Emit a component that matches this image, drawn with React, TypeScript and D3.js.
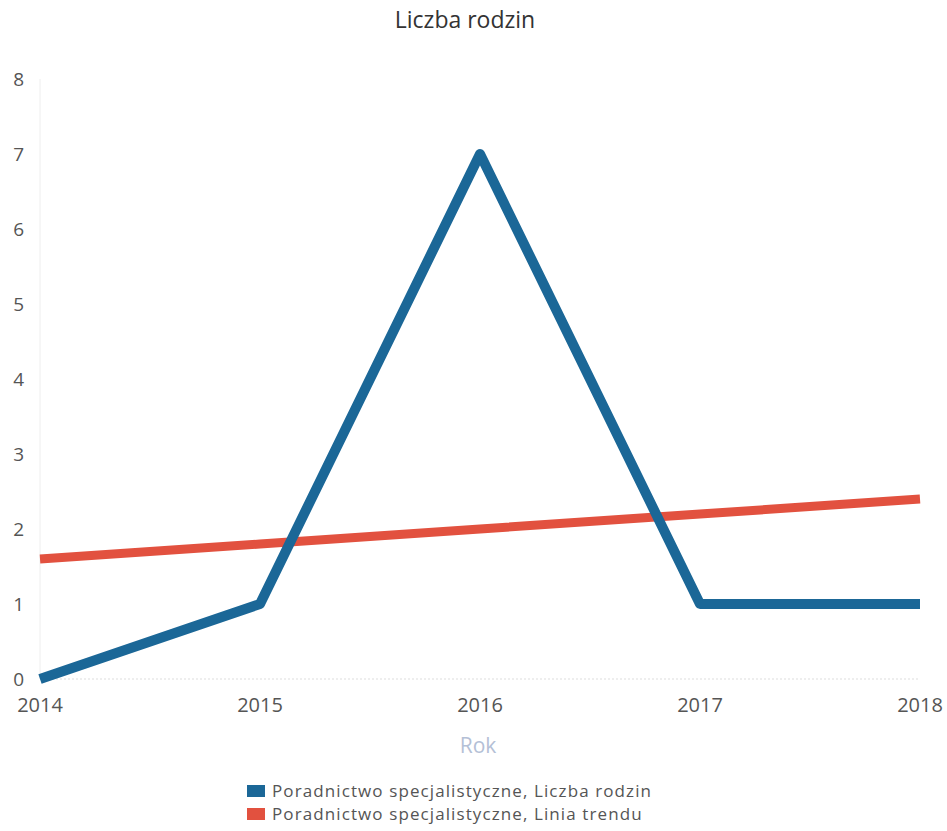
import { useRef, useEffect } from "react";
import * as d3 from "d3";

const years = ["2014", "2015", "2016", "2017", "2018"];
const familyCounts = [0, 1, 7, 1, 1];
const trendValues = [1.6, 1.8, 2.0, 2.2, 2.4];
const yTicks = [0, 1, 2, 3, 4, 5, 6, 7, 8];
const legendLabels = [
    "Poradnictwo specjalistyczne, Liczba rodzin",
    "Poradnictwo specjalistyczne, Linia trendu",
];
const seriesColors = ["#1b6797", "#e2513f"];

const ChartView = () => {
    const svgRef = useRef<SVGSVGElement>(null);

    useEffect(() => {
        if (!svgRef.current) return;
        const svg = d3.select(svgRef.current);
        svg.selectAll("*").remove();

        const width = 947;
        const height = 831;
        const margin = { top: 79, right: 27, bottom: 152, left: 40 };
        const font = "'Open Sans', 'DejaVu Sans', sans-serif";

        const x = d3
            .scalePoint()
            .domain(years)
            .range([margin.left, width - margin.right]);
        const y = d3
            .scaleLinear()
            .domain([0, 8])
            .range([height - margin.bottom, margin.top]);

        svg.attr("width", width).attr("height", height);

        // title
        svg.append("text")
            .attr("x", 465)
            .attr("y", 28)
            .attr("text-anchor", "middle")
            .attr("font-family", font)
            .attr("font-size", 23)
            .attr("fill", "#333")
            .text("Liczba rodzin");

        // faint y axis line and baseline
        svg.append("line")
            .attr("x1", margin.left)
            .attr("x2", margin.left)
            .attr("y1", y(8))
            .attr("y2", y(0))
            .attr("stroke", "#eee")
            .attr("stroke-width", 1);
        svg.append("line")
            .attr("x1", margin.left)
            .attr("x2", width - margin.right)
            .attr("y1", y(0))
            .attr("y2", y(0))
            .attr("stroke", "#ddd")
            .attr("stroke-dasharray", "2,2");

        // y ticks
        svg.append("g")
            .selectAll("text")
            .data(yTicks)
            .enter()
            .append("text")
            .attr("x", 24)
            .attr("y", (d) => y(d))
            .attr("dy", "0.36em")
            .attr("text-anchor", "end")
            .attr("font-family", font)
            .attr("font-size", 19)
            .attr("fill", "#555")
            .text((d) => d);

        // x ticks
        svg.append("g")
            .selectAll("text")
            .data(years)
            .enter()
            .append("text")
            .attr("x", (d) => x(d) || 0)
            .attr("y", 712)
            .attr("text-anchor", "middle")
            .attr("font-family", font)
            .attr("font-size", 20)
            .attr("fill", "#555")
            .text((d) => d);

        // x axis title
        svg.append("text")
            .attr("x", 478)
            .attr("y", 753)
            .attr("text-anchor", "middle")
            .attr("font-family", font)
            .attr("font-size", 21)
            .attr("fill", "#b4c0d6")
            .text("Rok");

        const line = d3
            .line<number>()
            .x((_, i) => x(years[i]) || 0)
            .y((d) => y(d));

        svg.append("path")
            .datum(trendValues)
            .attr("d", line)
            .attr("fill", "none")
            .attr("stroke", seriesColors[1])
            .attr("stroke-width", 9);

        svg.append("path")
            .datum(familyCounts)
            .attr("d", line)
            .attr("fill", "none")
            .attr("stroke", seriesColors[0])
            .attr("stroke-width", 10)
            .attr("stroke-linejoin", "round");

        // legend
        const legend = svg
            .append("g")
            .selectAll("g")
            .data(legendLabels)
            .enter()
            .append("g")
            .attr("transform", (_, i) => `translate(247, ${791 + i * 23})`);
        legend
            .append("rect")
            .attr("x", 0)
            .attr("y", -6)
            .attr("width", 18)
            .attr("height", 12)
            .attr("fill", (_, i) => seriesColors[i]);
        legend
            .append("text")
            .attr("x", 25)
            .attr("y", 0)
            .attr("dy", "0.36em")
            .attr("font-family", font)
            .attr("font-size", 17)
            .attr("letter-spacing", 1.1)
            .attr("fill", "#555")
            .text((d) => d);
    }, []);

    return (
        <svg
            ref={svgRef}
            style={{ position: "absolute", left: 0, top: 0, display: "block" }}
        />
    );
};

export default function App() {
    return <ChartView />;
}
